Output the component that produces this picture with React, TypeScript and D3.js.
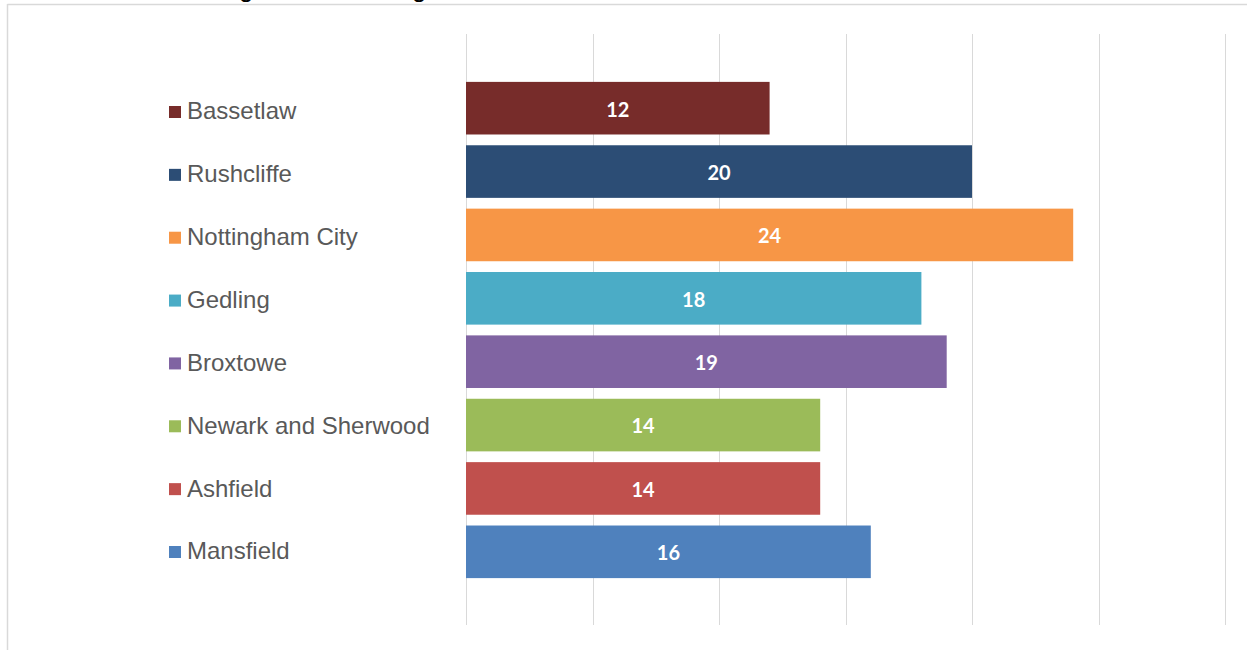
import React from "react";
import * as d3 from "d3";

const categories = [
  "Bassetlaw",
  "Rushcliffe",
  "Nottingham City",
  "Gedling",
  "Broxtowe",
  "Newark and Sherwood",
  "Ashfield",
  "Mansfield",
];
const values = [12, 20, 24, 18, 19, 14, 14, 16];
const colors = [
  "#772C2A",
  "#2C4D75",
  "#F79646",
  "#4BACC6",
  "#8064A2",
  "#9BBB59",
  "#C0504D",
  "#4F81BD",
];
const xTicks = [0, 5, 10, 15, 20, 25, 30];

export default function App() {
  const W = 1247;
  const H = 650;
  const x = d3.scaleLinear().domain([0, 30]).range([466, 1225]);
  const y = d3
    .scaleBand<string>()
    .domain(categories)
    .range([76.5, 583.5])
    .paddingInner(0.17)
    .paddingOuter(0.085);
  const legY = d3
    .scalePoint<string>()
    .domain(categories)
    .range([111, 551]);

  return (
    <svg
      width={W}
      height={H}
      style={{ position: "absolute", left: 0, top: 0, background: "#fff" }}
    >
      {/* title fragments (cut off at top) */}
      <text x={239} y={-3} fontFamily="Liberation Sans, Arial" fontSize={26} fill="#000">g</text>
      <text x={412} y={-3} fontFamily="Liberation Sans, Arial" fontSize={26} fill="#000">g</text>
      {/* chart border */}
      <line x1={7.5} x2={W} y1={4.5} y2={4.5} stroke="#d9d9d9" strokeWidth={1.5} />
      <line x1={7.5} x2={7.5} y1={4} y2={H} stroke="#d9d9d9" strokeWidth={1.5} />
      {/* gridlines */}
      {xTicks.map((t) => (
        <line
          key={t}
          x1={Math.round(x(t)) + 0.5}
          x2={Math.round(x(t)) + 0.5}
          y1={34}
          y2={625}
          stroke="#d9d9d9"
          strokeWidth={1}
        />
      ))}
      {/* bars */}
      {categories.map((c, i) => (
        <g key={c}>
          <rect
            x={x(0)}
            y={y(c)}
            width={x(values[i]) - x(0)}
            height={y.bandwidth()}
            fill={colors[i]}
          />
          <text
            x={(x(0) + x(values[i])) / 2}
            y={(y(c) as number) + y.bandwidth() / 2}
            dy="0.42em"
            textAnchor="middle"
            fontFamily="Lato, 'Open Sans', sans-serif"
            fontWeight="bold"
            fontSize={20}
            fill="#fff"
          >
            {values[i]}
          </text>
        </g>
      ))}
      {/* legend */}
      {categories.map((c, i) => (
        <g key={"l" + c} transform={`translate(169, ${legY(c)})`}>
          <rect x={0} y={-5} width={12} height={12} fill={colors[i]} />
          <text
            x={18}
            y={0}
            dy="0.35em"
            fontFamily="Liberation Sans, Arial, sans-serif"
            fontSize={24}
            fill="#595959"
          >
            {c}
          </text>
        </g>
      ))}
    </svg>
  );
}
